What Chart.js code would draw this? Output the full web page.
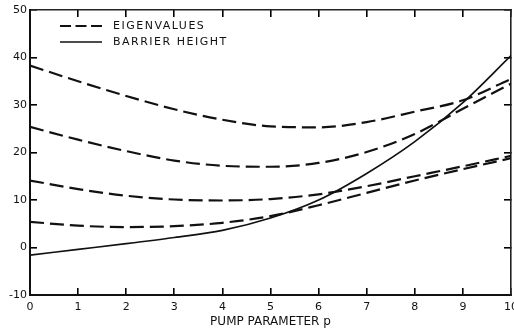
<!DOCTYPE html>
<html><head><meta charset="utf-8">
<style>html,body{margin:0;padding:0;background:#fff}</style>
<script src="https://cdn.jsdelivr.net/npm/chart.js@4/dist/chart.umd.min.js"></script>
</head><body>
<canvas id="c" width="514" height="333"></canvas>
<script>
const pValues = [0, 1, 2, 3, 4, 5, 6, 7, 8, 9, 10];
const eigenvalue1 = [38.3, 35.0, 31.9, 29.1, 26.9, 25.5, 25.3, 26.4, 28.6, 31.0, 35.5];
const eigenvalue2 = [25.4, 22.7, 20.3, 18.3, 17.2, 17.0, 17.8, 20.1, 23.9, 29.2, 34.5];
const eigenvalue3 = [14.1, 12.3, 10.9, 10.1, 9.9, 10.2, 11.2, 12.9, 15.0, 17.1, 19.3];
const eigenvalue4 = [5.4, 4.6, 4.3, 4.5, 5.2, 6.6, 8.9, 11.5, 14.1, 16.5, 18.8];
const barrierHeight = [-1.6, -0.4, 0.8, 2.1, 3.6, 6.2, 10.0, 15.6, 22.3, 30.5, 40.4];
const xTicks = [0, 1, 2, 3, 4, 5, 6, 7, 8, 9, 10];
const yTicks = [-10, 0, 10, 20, 30, 40, 50];
const legendLabels = ['EIGENVALUES', 'BARRIER HEIGHT'];
const xTitle = 'PUMP PARAMETER p';

const INK = '#111';
const FONT = 'DejaVu Sans';
const pts = arr => pValues.map((p, i) => ({x: p, y: arr[i]}));
const dashed = arr => ({data: pts(arr), borderColor: INK, borderWidth: 2.2, borderDash: [14, 6],
  pointRadius: 0, fill: false, cubicInterpolationMode: 'monotone'});

const legendPlugin = {
  id: 'insetLegend',
  afterDraw(chart) {
    const ctx = chart.ctx;
    const a = chart.chartArea;
    ctx.save();
    ctx.strokeStyle = INK;
    ctx.fillStyle = INK;
    const lx = a.left + 30, ly = a.top + 16;
    ctx.lineWidth = 2;
    ctx.setLineDash([11, 4.5]);
    ctx.beginPath(); ctx.moveTo(lx, ly); ctx.lineTo(lx + 42, ly); ctx.stroke();
    ctx.setLineDash([]);
    ctx.lineWidth = 1.6;
    ctx.beginPath(); ctx.moveTo(lx, ly + 16); ctx.lineTo(lx + 42, ly + 16); ctx.stroke();
    ctx.font = '11px "' + FONT + '"';
    ctx.textBaseline = 'middle';
    ctx.textAlign = 'left';
    if ('letterSpacing' in ctx) ctx.letterSpacing = '1.5px';
    ctx.fillText(legendLabels[0], lx + 53, ly);
    ctx.fillText(legendLabels[1], lx + 53, ly + 16);
    ctx.restore();
  }
};

const tickGrid = {display: true, drawOnChartArea: false, drawTicks: true, tickLength: -7,
                  color: '#000', lineWidth: 1.6};

new Chart(document.getElementById('c'), {
  type: 'line',
  data: {
    datasets: [
      dashed(eigenvalue1), dashed(eigenvalue2), dashed(eigenvalue3), dashed(eigenvalue4),
      {data: pts(barrierHeight), borderColor: INK, borderWidth: 1.7, pointRadius: 0, fill: false,
       cubicInterpolationMode: 'monotone'}
    ]
  },
  options: {
    responsive: false,
    animation: false,
    layout: {padding: {top: 10, right: 3, left: 0, bottom: 0}},
    plugins: {legend: {display: false}, tooltip: {enabled: false}},
    scales: {
      x: {
        type: 'linear', position: 'bottom', min: 0, max: 10,
        afterBuildTicks: s => { s.ticks = xTicks.map(v => ({value: v})); },
        ticks: {padding: 13, color: INK, font: {family: FONT, size: 11}, maxRotation: 0},
        grid: tickGrid,
        border: {display: true, color: INK, width: 2},
        title: {display: true, text: xTitle, color: INK, font: {family: FONT, size: 12},
                padding: {top: 0, bottom: 4}},
        afterFit: s => { s.height = 38; s.paddingLeft = 0; s.paddingRight = 0; }
      },
      xTop: {
        type: 'linear', position: 'top', min: 0, max: 10,
        afterBuildTicks: s => { s.ticks = xTicks.map(v => ({value: v})); },
        ticks: {display: false},
        grid: tickGrid,
        border: {display: true, color: '#222', width: 1.6},
        afterFit: s => { s.height = 0; s.paddingLeft = 0; s.paddingRight = 0; }
      },
      y: {
        type: 'linear', position: 'left', min: -10, max: 50,
        afterBuildTicks: s => { s.ticks = yTicks.map(v => ({value: v})); },
        ticks: {padding: 10, color: INK, font: {family: FONT, size: 11}},
        grid: tickGrid,
        border: {display: true, color: INK, width: 2},
        afterFit: s => { s.width = 30; s.paddingTop = 0; s.paddingBottom = 0; }
      },
      yRight: {
        type: 'linear', position: 'right', min: -10, max: 50,
        afterBuildTicks: s => { s.ticks = yTicks.map(v => ({value: v})); },
        ticks: {display: false},
        grid: tickGrid,
        border: {display: true, color: '#222', width: 1.6},
        afterFit: s => { s.width = 0; s.paddingTop = 0; s.paddingBottom = 0; }
      }
    }
  },
  plugins: [legendPlugin]
});
</script>
</body></html>
